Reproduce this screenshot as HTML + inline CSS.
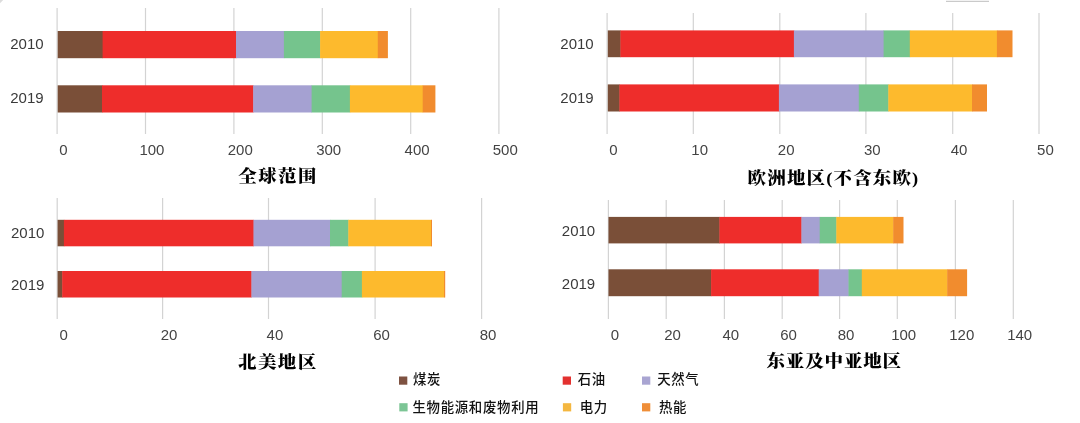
<!DOCTYPE html>
<html lang="zh"><head><meta charset="utf-8"><title>chart</title>
<style>
html,body{margin:0;padding:0;background:#fff;}
body{width:1080px;height:423px;position:relative;overflow:hidden;font-family:"Liberation Sans","Noto Sans CJK SC",sans-serif;}
.xl{position:absolute;font-size:15px;line-height:16px;height:16px;color:#444;transform:translate(-50%,-50%);white-space:nowrap;}
.yl{position:absolute;font-size:15px;line-height:16px;height:16px;color:#3a3a3a;transform:translate(-100%,-50%);white-space:nowrap;}
.t{position:absolute;font-family:"Liberation Serif","Noto Serif CJK SC",serif;font-weight:900;font-size:18.5px;line-height:22px;height:22px;color:#000;transform:translate(0,-50%) scaleY(0.93);transform-origin:0 50%;white-space:nowrap;}
.lt{position:absolute;font-size:13.4px;letter-spacing:0.7px;line-height:16px;height:16px;color:#111;transform:translate(0,-50%);white-space:nowrap;font-weight:500;}
</style></head><body>

<svg width="1080" height="423" viewBox="0 0 1080 423" style="position:absolute;left:0;top:0">
<rect x="56.50" y="8" width="1.2" height="126" fill="#d3d3d3"/>
<rect x="144.90" y="8" width="1.2" height="126" fill="#d3d3d3"/>
<rect x="233.30" y="8" width="1.2" height="126" fill="#d3d3d3"/>
<rect x="321.70" y="8" width="1.2" height="126" fill="#d3d3d3"/>
<rect x="410.10" y="8" width="1.2" height="126" fill="#d3d3d3"/>
<rect x="498.30" y="8" width="1.2" height="126" fill="#d3d3d3"/>
<rect x="57.7" y="31.0" width="45.3" height="27.2" fill="#7A4F38"/>
<rect x="102.6" y="31.0" width="133.8" height="27.2" fill="#EE2D2B"/>
<rect x="236.0" y="31.0" width="48.3" height="27.2" fill="#A5A1D2"/>
<rect x="283.9" y="31.0" width="36.6" height="27.2" fill="#75C48D"/>
<rect x="320.1" y="31.0" width="58.1" height="27.2" fill="#FDBA2D"/>
<rect x="377.8" y="31.0" width="10.1" height="27.2" fill="#F18C2E"/>
<rect x="57.7" y="85.3" width="44.7" height="27.2" fill="#7A4F38"/>
<rect x="102.0" y="85.3" width="151.6" height="27.2" fill="#EE2D2B"/>
<rect x="253.2" y="85.3" width="58.8" height="27.2" fill="#A5A1D2"/>
<rect x="311.6" y="85.3" width="38.7" height="27.2" fill="#75C48D"/>
<rect x="349.9" y="85.3" width="73.2" height="27.2" fill="#FDBA2D"/>
<rect x="422.7" y="85.3" width="12.7" height="27.2" fill="#F18C2E"/>
<rect x="606.50" y="13" width="1.2" height="121" fill="#d3d3d3"/>
<rect x="692.70" y="13" width="1.2" height="121" fill="#d3d3d3"/>
<rect x="779.20" y="13" width="1.2" height="121" fill="#d3d3d3"/>
<rect x="865.30" y="13" width="1.2" height="121" fill="#d3d3d3"/>
<rect x="952.10" y="13" width="1.2" height="121" fill="#d3d3d3"/>
<rect x="1038.40" y="13" width="1.2" height="121" fill="#d3d3d3"/>
<rect x="607.8" y="30.4" width="13.0" height="26.8" fill="#7A4F38"/>
<rect x="620.4" y="30.4" width="173.9" height="26.8" fill="#EE2D2B"/>
<rect x="793.9" y="30.4" width="90.1" height="26.8" fill="#A5A1D2"/>
<rect x="883.6" y="30.4" width="26.6" height="26.8" fill="#75C48D"/>
<rect x="909.8" y="30.4" width="87.5" height="26.8" fill="#FDBA2D"/>
<rect x="996.9" y="30.4" width="15.6" height="26.8" fill="#F18C2E"/>
<rect x="607.8" y="84.4" width="12.0" height="27.1" fill="#7A4F38"/>
<rect x="619.4" y="84.4" width="159.9" height="27.1" fill="#EE2D2B"/>
<rect x="778.9" y="84.4" width="80.3" height="27.1" fill="#A5A1D2"/>
<rect x="858.8" y="84.4" width="29.9" height="27.1" fill="#75C48D"/>
<rect x="888.3" y="84.4" width="84.1" height="27.1" fill="#FDBA2D"/>
<rect x="972.0" y="84.4" width="15.0" height="27.1" fill="#F18C2E"/>
<rect x="56.60" y="198" width="1.2" height="121" fill="#d3d3d3"/>
<rect x="162.00" y="198" width="1.2" height="121" fill="#d3d3d3"/>
<rect x="267.90" y="198" width="1.2" height="121" fill="#d3d3d3"/>
<rect x="374.50" y="198" width="1.2" height="121" fill="#d3d3d3"/>
<rect x="481.00" y="198" width="1.2" height="121" fill="#d3d3d3"/>
<rect x="57.6" y="219.8" width="6.7" height="26.5" fill="#7A4F38"/>
<rect x="63.9" y="219.8" width="190.0" height="26.5" fill="#EE2D2B"/>
<rect x="253.5" y="219.8" width="76.9" height="26.5" fill="#A5A1D2"/>
<rect x="330.0" y="219.8" width="18.7" height="26.5" fill="#75C48D"/>
<rect x="348.3" y="219.8" width="83.1" height="26.5" fill="#FDBA2D"/>
<rect x="431.0" y="219.8" width="1.0" height="26.5" fill="#F18C2E"/>
<rect x="57.6" y="271" width="5.0" height="26.5" fill="#7A4F38"/>
<rect x="62.2" y="271" width="189.6" height="26.5" fill="#EE2D2B"/>
<rect x="251.4" y="271" width="90.7" height="26.5" fill="#A5A1D2"/>
<rect x="341.7" y="271" width="20.6" height="26.5" fill="#75C48D"/>
<rect x="361.9" y="271" width="82.5" height="26.5" fill="#FDBA2D"/>
<rect x="444.0" y="271" width="1.2" height="26.5" fill="#F18C2E"/>
<rect x="607.80" y="200" width="1.2" height="119" fill="#d3d3d3"/>
<rect x="665.60" y="200" width="1.2" height="119" fill="#d3d3d3"/>
<rect x="723.80" y="200" width="1.2" height="119" fill="#d3d3d3"/>
<rect x="781.60" y="200" width="1.2" height="119" fill="#d3d3d3"/>
<rect x="839.00" y="200" width="1.2" height="119" fill="#d3d3d3"/>
<rect x="896.70" y="200" width="1.2" height="119" fill="#d3d3d3"/>
<rect x="954.80" y="200" width="1.2" height="119" fill="#d3d3d3"/>
<rect x="1012.70" y="200" width="1.2" height="119" fill="#d3d3d3"/>
<rect x="608.5" y="216.9" width="111.3" height="26.5" fill="#7A4F38"/>
<rect x="719.4" y="216.9" width="82.4" height="26.5" fill="#EE2D2B"/>
<rect x="801.4" y="216.9" width="18.7" height="26.5" fill="#A5A1D2"/>
<rect x="819.7" y="216.9" width="17.0" height="26.5" fill="#75C48D"/>
<rect x="836.3" y="216.9" width="57.3" height="26.5" fill="#FDBA2D"/>
<rect x="893.2" y="216.9" width="10.3" height="26.5" fill="#F18C2E"/>
<rect x="608.5" y="269.3" width="103.0" height="26.9" fill="#7A4F38"/>
<rect x="711.1" y="269.3" width="108.0" height="26.9" fill="#EE2D2B"/>
<rect x="818.7" y="269.3" width="30.2" height="26.9" fill="#A5A1D2"/>
<rect x="848.5" y="269.3" width="13.7" height="26.9" fill="#75C48D"/>
<rect x="861.8" y="269.3" width="85.8" height="26.9" fill="#FDBA2D"/>
<rect x="947.2" y="269.3" width="19.9" height="26.9" fill="#F18C2E"/>
<rect x="399.0" y="376.5" width="8.3" height="8.2" fill="#7E5241"/>
<rect x="562.7" y="376.5" width="8.3" height="8.2" fill="#E3312F"/>
<rect x="642.0" y="376.5" width="8.3" height="8.2" fill="#A9A5D2"/>
<rect x="399.3" y="403.2" width="8.3" height="8.2" fill="#7CC595"/>
<rect x="562.9" y="403.2" width="8.3" height="8.2" fill="#F4B740"/>
<rect x="642.0" y="403.2" width="8.3" height="8.2" fill="#EF8E38"/>
<rect x="946" y="0.8" width="43" height="1" fill="#bdbdbd"/>
<path d="M0 0H3.2L0 3.2Z" fill="#dcdcdc"/>
</svg>
<div class="xl" style="left:63.5px;top:150px">0</div>
<div class="xl" style="left:151.9px;top:150px">100</div>
<div class="xl" style="left:240.3px;top:150px">200</div>
<div class="xl" style="left:328.7px;top:150px">300</div>
<div class="xl" style="left:417.1px;top:150px">400</div>
<div class="xl" style="left:505.3px;top:150px">500</div>
<div class="yl" style="left:43.6px;top:44px">2010</div>
<div class="yl" style="left:43.6px;top:98.3px">2019</div>
<div class="t" style="left:238.3px;top:175.6px;letter-spacing:1.4px">全球范围</div>
<div class="xl" style="left:613.5px;top:150px">0</div>
<div class="xl" style="left:699.7px;top:150px">10</div>
<div class="xl" style="left:786.2px;top:150px">20</div>
<div class="xl" style="left:872.3px;top:150px">30</div>
<div class="xl" style="left:959.1px;top:150px">40</div>
<div class="xl" style="left:1045.4px;top:150px">50</div>
<div class="yl" style="left:593.7px;top:44px">2010</div>
<div class="yl" style="left:593.7px;top:98.3px">2019</div>
<div class="t" style="left:747.6px;top:177.6px;letter-spacing:1.15px">欧洲地区(不含东欧)</div>
<div class="xl" style="left:63.6px;top:335px">0</div>
<div class="xl" style="left:169.0px;top:335px">20</div>
<div class="xl" style="left:274.9px;top:335px">40</div>
<div class="xl" style="left:381.5px;top:335px">60</div>
<div class="xl" style="left:488.0px;top:335px">80</div>
<div class="yl" style="left:44.4px;top:233.3px">2010</div>
<div class="yl" style="left:44.4px;top:284.6px">2019</div>
<div class="t" style="left:238.0px;top:361.8px;letter-spacing:1.4px">北美地区</div>
<div class="xl" style="left:614.8px;top:335px">0</div>
<div class="xl" style="left:672.6px;top:335px">20</div>
<div class="xl" style="left:730.8px;top:335px">40</div>
<div class="xl" style="left:788.6px;top:335px">60</div>
<div class="xl" style="left:846.0px;top:335px">80</div>
<div class="xl" style="left:903.7px;top:335px">100</div>
<div class="xl" style="left:961.8px;top:335px">120</div>
<div class="xl" style="left:1019.7px;top:335px">140</div>
<div class="yl" style="left:595.2px;top:230.7px">2010</div>
<div class="yl" style="left:595.2px;top:283.6px">2019</div>
<div class="t" style="left:766.5px;top:361.2px;letter-spacing:0.85px">东亚及中亚地区</div>
<div class="lt" style="left:413.0px;top:380.0px">煤炭</div>
<div class="lt" style="left:577.7px;top:380.0px">石油</div>
<div class="lt" style="left:657.2px;top:380.0px">天然气</div>
<div class="lt" style="left:412.5px;top:407.9px">生物能源和废物利用</div>
<div class="lt" style="left:579.7px;top:407.9px">电力</div>
<div class="lt" style="left:659.0px;top:407.9px">热能</div>
</body></html>
